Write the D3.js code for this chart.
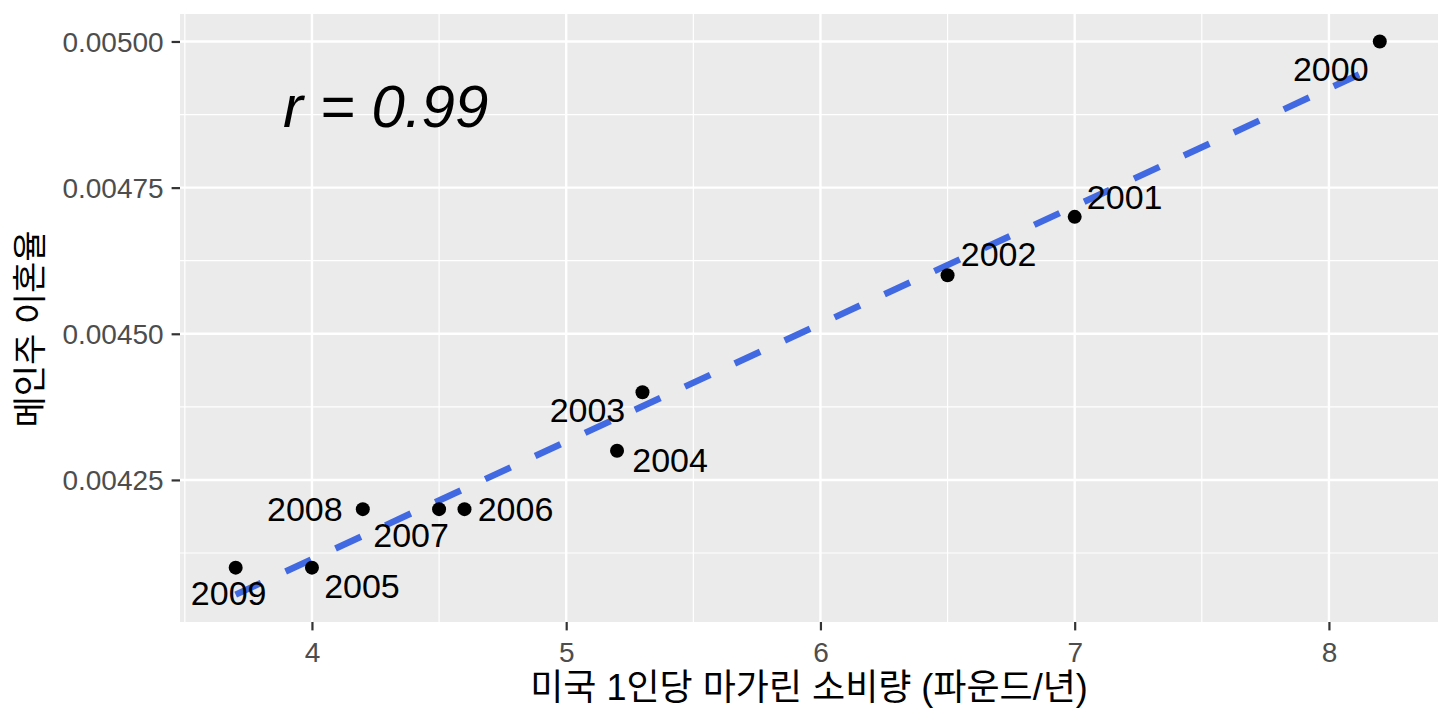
<!DOCTYPE html>
<html>
<head>
<meta charset="utf-8">
<script src="https://cdn.jsdelivr.net/npm/d3@7"></script>
<style>
  body { margin: 0; background: #fff; }
  text { font-family: "Liberation Sans", Arial, "Noto Sans CJK KR", sans-serif; }
</style>
</head>
<body>
<div id="chart"></div>
<script>
// data: Maine divorce rate vs US margarine consumption per capita
const years = [2000, 2001, 2002, 2003, 2004, 2005, 2006, 2007, 2008, 2009];
const margarine = [8.2, 7.0, 6.5, 5.3, 5.2, 4.0, 4.6, 4.5, 4.2, 3.7];
const divorce = [0.0050, 0.0047, 0.0046, 0.0044, 0.0043, 0.0041, 0.0042, 0.0042, 0.0042, 0.0041];
const xTicks = [4, 5, 6, 7, 8];
const yTicks = [0.00425, 0.0045, 0.00475, 0.005];
const xMinor = [3.5, 4.5, 5.5, 6.5, 7.5];
const yMinor = [0.004125, 0.004375, 0.004625, 0.004875];
const xTitle = "미국 1인당 마가린 소비량 (파운드/년)";
const yTitle = "메인주 이혼율";

// label nudges (px), like ggrepel placed them
const labelNudge = {
    2000: [-49, 28], 2001: [50, -20], 2002: [51, -21], 2003: [-55, 18], 2004: [53, 9],
    2005: [50, 18], 2006: [51, 0], 2007: [-28, 26], 2008: [-58, 0], 2009: [-7, 25]
};

const W = 1456, H = 720;
const panel = {left: 180, right: 1438, top: 14, bottom: 622};

const svg = d3.select("#chart").append("svg")
    .attr("width", W)
    .attr("height", H);

const x = d3.scaleLinear().domain([3.481, 8.429]).range([panel.left, panel.right]);
const y = d3.scaleLinear().domain([0.004007, 0.005047]).range([panel.bottom, panel.top]);

// panel
svg.append("rect")
    .attr("x", panel.left).attr("y", panel.top)
    .attr("width", panel.right - panel.left).attr("height", panel.bottom - panel.top)
    .attr("fill", "#EBEBEB");

// grid
const grid = svg.append("g");
grid.selectAll(".vminor").data(xMinor).enter().append("line")
    .attr("x1", d => x(d)).attr("x2", d => x(d))
    .attr("y1", panel.top).attr("y2", panel.bottom)
    .attr("stroke", "#fff").attr("stroke-width", 1.2);
grid.selectAll(".hminor").data(yMinor).enter().append("line")
    .attr("y1", d => y(d)).attr("y2", d => y(d))
    .attr("x1", panel.left).attr("x2", panel.right)
    .attr("stroke", "#fff").attr("stroke-width", 1.2);
grid.selectAll(".vmajor").data(xTicks).enter().append("line")
    .attr("x1", d => x(d)).attr("x2", d => x(d))
    .attr("y1", panel.top).attr("y2", panel.bottom)
    .attr("stroke", "#fff").attr("stroke-width", 2.4);
grid.selectAll(".hmajor").data(yTicks).enter().append("line")
    .attr("y1", d => y(d)).attr("y2", d => y(d))
    .attr("x1", panel.left).attr("x2", panel.right)
    .attr("stroke", "#fff").attr("stroke-width", 2.4);

// axes
const xAxis = svg.append("g")
    .attr("transform", `translate(0,${panel.bottom})`)
    .call(d3.axisBottom(x).tickValues(xTicks).tickSize(8.4).tickPadding(6).tickFormat(d3.format("d")));
const yAxis = svg.append("g")
    .attr("transform", `translate(${panel.left},0)`)
    .call(d3.axisLeft(y).tickValues(yTicks).tickSize(8.4).tickPadding(8).tickFormat(d3.format(".5f")));

[xAxis, yAxis].forEach(a => {
    a.select(".domain").remove();
    a.selectAll(".tick line").attr("stroke", "#333333").attr("stroke-width", 2.2);
    a.selectAll(".tick text")
        .attr("fill", "#4D4D4D")
        .style("font-size", "28px")
        .style("font-family", "'Liberation Sans', Arial, sans-serif");
});
xAxis.selectAll(".tick text").attr("dy", "0.9em");
yAxis.selectAll(".tick text").attr("dy", "0.35em");

// regression line (least squares on the data)
const mx = d3.mean(margarine), my = d3.mean(divorce);
let sxy = 0, sxx = 0, syy = 0;
margarine.forEach((v, i) => {
    sxy += (v - mx) * (divorce[i] - my);
    sxx += (v - mx) * (v - mx);
    syy += (divorce[i] - my) * (divorce[i] - my);
});
const slope = sxy / sxx, intercept = my - slope * mx;
const r = sxy / Math.sqrt(sxx * syy);
const xr = d3.extent(margarine);

svg.append("path")
    .datum(xr)
    .attr("d", d => d3.line().x(v => x(v)).y(v => y(intercept + slope * v))(d))
    .attr("fill", "none")
    .attr("stroke", "#4169E1")
    .attr("stroke-width", 6.5)
    .attr("stroke-dasharray", "28,27");

// points
svg.selectAll(".pt").data(years).enter().append("circle")
    .attr("cx", (d, i) => x(margarine[i]))
    .attr("cy", (d, i) => y(divorce[i]))
    .attr("r", 7)
    .attr("fill", "#000");

// labels
svg.selectAll(".lab").data(years).enter().append("text")
    .attr("x", (d, i) => x(margarine[i]) + labelNudge[d][0])
    .attr("y", (d, i) => y(divorce[i]) + labelNudge[d][1])
    .attr("text-anchor", "middle")
    .attr("dy", "0.35em")
    .style("font-size", "34px")
    .attr("fill", "#000")
    .text(d => d);

// r annotation
svg.append("text")
    .attr("x", x(4.29))
    .attr("y", y(0.00489))
    .attr("text-anchor", "middle")
    .attr("dy", "0.35em")
    .style("font-size", "60px")
    .style("font-style", "italic")
    .attr("fill", "#000")
    .text("r = " + r.toFixed(2));

// axis titles
svg.append("text")
    .attr("x", (panel.left + panel.right) / 2)
    .attr("y", 700)
    .attr("text-anchor", "middle")
    .style("font-size", "36px")
    .attr("fill", "#000")
    .text(xTitle);

svg.append("text")
    .attr("transform", "translate(42,329) rotate(-90)")
    .attr("text-anchor", "middle")
    .style("font-size", "34px")
    .attr("fill", "#000")
    .text(yTitle);
</script>
</body>
</html>
